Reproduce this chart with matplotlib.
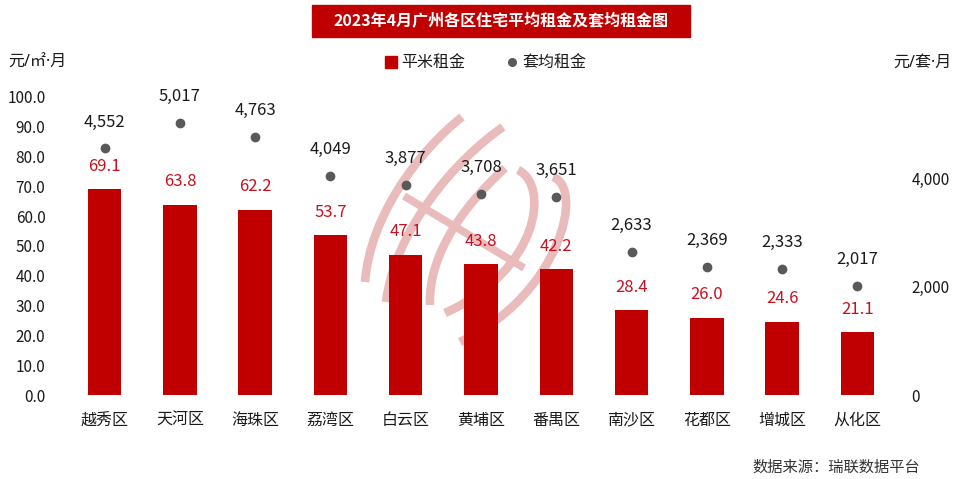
import matplotlib
matplotlib.use("Agg")
import matplotlib.pyplot as plt
from matplotlib.patches import Rectangle, PathPatch
from matplotlib.path import Path
from matplotlib.lines import Line2D
from matplotlib.ticker import FuncFormatter

plt.rcParams['font.family'] = ['Noto Sans CJK SC', 'DejaVu Sans']

districts = ['越秀区', '天河区', '海珠区', '荔湾区', '白云区', '黄埔区',
             '番禺区', '南沙区', '花都区', '增城区', '从化区']
rent_sqm = [69.1, 63.8, 62.2, 53.7, 47.1, 43.8, 42.2, 28.4, 26.0, 24.6, 21.1]
rent_unit = [4552, 5017, 4763, 4049, 3877, 3708, 3651, 2633, 2369, 2333, 2017]
left_ticks = [0, 10, 20, 30, 40, 50, 60, 70, 80, 90, 100]
right_ticks = [0, 2000, 4000]

title = '2023年4月广州各区住宅平均租金及套均租金图'
source = '数据来源：瑞联数据平台'

RED = '#C00000'
GREY = '#595959'
W, H = 960, 479

fig = plt.figure(figsize=(9.6, 4.79), dpi=100)

# watermark logo (decorative) on an overlay axes in pixel coordinates
lax = fig.add_axes([0, 0, 1, 1])
lax.set_xlim(0, W)
lax.set_ylim(H, 0)
lax.axis('off')
lax.set_zorder(0)
logo_col = '#EABBBB'
curves = [
    [(462, 117), (420, 150), (370, 215), (365, 282)],
    [(503, 127), (455, 160), (395, 230), (386, 302)],
    [(505, 168), (470, 200), (428, 250), (430, 305)],
    [(518, 170), (550, 185), (540, 270), (445, 313)],
    [(553, 177), (585, 188), (560, 295), (460, 342)],
]
for c in curves:
    p = Path(c, [Path.MOVETO, Path.CURVE4, Path.CURVE4, Path.CURVE4])
    lax.add_patch(PathPatch(p, fill=False, lw=6.2, ec=logo_col, capstyle='butt'))
lax.plot([404, 524], [196, 268], color=logo_col, lw=5.5, solid_capstyle='butt')

ax = fig.add_axes([67 / W, 1 - 395 / H, (895 - 67) / W, 298 / H])
ax.set_zorder(1)
ax.patch.set_visible(False)
x = list(range(len(districts)))
ax.bar(x, rent_sqm, width=0.445, color=RED, zorder=2)
ax.set_xlim(-0.5, len(districts) - 0.5)
ax.set_ylim(0, 100)
ax.set_yticks(left_ticks)
ax.yaxis.set_major_formatter(FuncFormatter(lambda v, p: f'{v:.1f}'))
ax.set_xticks(x)
ax.set_xticklabels(districts)
for s in ax.spines.values():
    s.set_visible(False)
ax.tick_params(axis='y', length=0, pad=15.5, labelsize=11, labelcolor='#1a1a1a')
ax.tick_params(axis='x', length=0, pad=12, labelsize=11.5, labelcolor='#1a1a1a')
for xi, v in zip(x, rent_sqm):
    ax.annotate(f'{v:.1f}', (xi, v), xytext=(0, 16.5), textcoords='offset points',
                ha='center', va='center', color='#C8101E', fontsize=12)

ax2 = ax.twinx()
ax2.set_ylim(0, 5500)
ax2.plot(x, rent_unit, linestyle='none', marker='o', markersize=6, color=GREY, zorder=3)
ax2.set_yticks(right_ticks)
ax2.yaxis.set_major_formatter(FuncFormatter(lambda v, p: f'{int(v):,}'))
for s in ax2.spines.values():
    s.set_visible(False)
ax2.tick_params(axis='y', length=0, pad=12, labelsize=11, labelcolor='#1a1a1a')
for xi, v in zip(x, rent_unit):
    ax2.annotate(f'{v:,}', (xi, v), xytext=(0, 19), textcoords='offset points',
                 ha='center', va='center', color='#1a1a1a', fontsize=12)

# title box
fig.patches.append(Rectangle((312 / W, 1 - 37 / H), 378 / W, 32 / H,
                             transform=fig.transFigure, color=RED, zorder=0))
fig.text(501 / W, 1 - 21 / H, title, ha='center', va='center', color='white',
         fontsize=11.5, fontweight='bold')

# legend
fig.patches.append(Rectangle((385 / W, 1 - 68 / H), 12 / W, 12 / H,
                             transform=fig.transFigure, color=RED))
fig.text(401 / W, 1 - 62 / H, '平米租金', ha='left', va='center', fontsize=11.5, color='#1a1a1a')
fig.lines.append(Line2D([511.5 / W], [1 - 62 / H], transform=fig.transFigure,
                        marker='o', markersize=5.5, color=GREY, linestyle='none'))
fig.text(522 / W, 1 - 62 / H, '套均租金', ha='left', va='center', fontsize=11.5, color='#1a1a1a')

# unit labels
unit_fam = ['Noto Sans', 'Noto Sans CJK SC', 'DejaVu Sans']
fig.text(8 / W, 1 - 63 / H, '元/㎡·月', ha='left', va='center', fontsize=11.5,
         color='#1a1a1a', family=unit_fam)
fig.text(952 / W, 1 - 63 / H, '元/套·月', ha='right', va='center', fontsize=11.5,
         color='#1a1a1a', family=unit_fam)

# source
fig.text(920 / W, 1 - 467 / H, source, ha='right', va='center', fontsize=11, color='#333333')

fig.savefig('out.png', dpi=100)
